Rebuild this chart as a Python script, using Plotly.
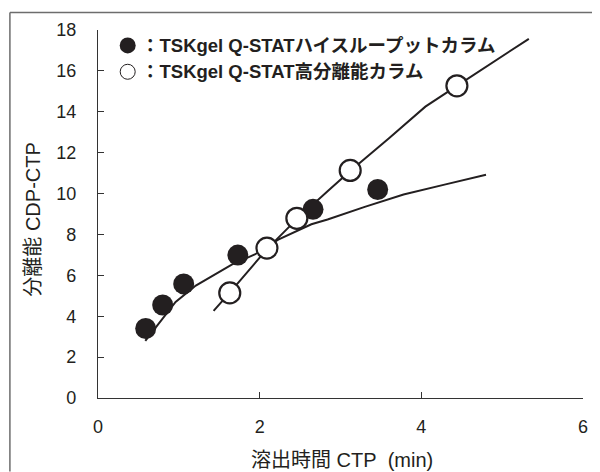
import plotly.graph_objects as go

# ---- data ----
ht_x = [0.59, 0.80, 1.06, 1.73, 2.66, 3.46]          # TSKgel Q-STAT high-throughput (filled)
ht_y = [3.40, 4.55, 5.58, 6.99, 9.23, 10.20]
hr_x = [1.63, 2.09, 2.46, 3.12, 4.44]                # TSKgel Q-STAT high-resolution (open)
hr_y = [5.14, 7.33, 8.79, 11.13, 15.27]

ht_fit_x = [0.585, 0.74, 0.96, 1.21, 1.66, 1.94, 2.23, 2.64, 2.84, 3.30, 3.78, 4.30, 4.80]
ht_fit_y = [2.80, 3.61, 4.70, 5.50, 6.54, 7.02, 7.75, 8.50, 8.73, 9.35, 9.95, 10.45, 10.92]
hr_fit_x = [1.43, 1.63, 2.09, 2.46, 2.85, 3.12, 3.60, 4.05, 4.44, 4.90, 5.33]
hr_fit_y = [4.26, 5.15, 7.28, 8.75, 10.15, 11.10, 12.70, 14.25, 15.27, 16.45, 17.57]

x_ticks = [0, 2, 4, 6]
y_ticks = [0, 2, 4, 6, 8, 10, 12, 14, 16, 18]
legend_labels = ["：TSKgel Q-STATハイスループットカラム", "：TSKgel Q-STAT高分離能カラム"]
x_title = "溶出時間 CTP\u00a0\u00a0(min)"
y_title = "分離能 CDP-CTP"

INK = "#231f20"
FONT = "Liberation Sans, Arial, Noto Sans CJK JP, sans-serif"

fig = go.Figure()
fig.add_trace(go.Scatter(x=ht_fit_x, y=ht_fit_y, mode="lines",
                         line=dict(color=INK, width=2), hoverinfo="skip"))
fig.add_trace(go.Scatter(x=hr_fit_x, y=hr_fit_y, mode="lines",
                         line=dict(color=INK, width=2), hoverinfo="skip"))
fig.add_trace(go.Scatter(x=ht_x, y=ht_y, mode="markers",
                         marker=dict(size=21, color=INK, line=dict(width=0))))
fig.add_trace(go.Scatter(x=hr_x, y=hr_y, mode="markers",
                         marker=dict(size=21, color="white", line=dict(width=2.2, color=INK))))

# page offset of the figure (body margin) = 8 px
OFF = 8
FIG_W, FIG_H = 600 - OFF, 472 - OFF
# plot area in page pixels: x 98..588, y 28..398
PL, PR, PT, PB = 98, 588, 28, 398
L, R, T, B = PL - OFF, 600 - PR, PT - OFF, 472 - PB
W, H = PR - PL, PB - PT

def px(xp):
    return (xp - PL) / W

def py(yp):
    return (PB - yp) / H

shapes = [
    # partial outer frame (top and left)
    dict(type="line", xref="paper", yref="paper", x0=px(9), x1=px(600), y0=py(10.5), y1=py(10.5),
         line=dict(color="#6d6d6d", width=1.5)),
    dict(type="line", xref="paper", yref="paper", x0=px(9), x1=px(9), y0=py(10.5), y1=py(472),
         line=dict(color="#6d6d6d", width=1.5)),
    # legend symbols
    dict(type="circle", xref="paper", yref="paper", xsizemode="pixel", ysizemode="pixel",
         xanchor=px(128), yanchor=py(43.5), x0=-8, x1=8, y0=-8, y1=8,
         fillcolor=INK, line=dict(width=0)),
    dict(type="circle", xref="paper", yref="paper", xsizemode="pixel", ysizemode="pixel",
         xanchor=px(128), yanchor=py(70), x0=-7.5, x1=7.5, y0=-7.5, y1=7.5,
         fillcolor="white", line=dict(color=INK, width=1)),
]

annotations = [
    dict(text=legend_labels[0], xref="paper", yref="paper", x=px(139), y=py(43.5),
         xanchor="left", yanchor="middle", showarrow=False,
         font=dict(family=FONT, size=18.5, color=INK, weight="bold")),
    dict(text=legend_labels[1], xref="paper", yref="paper", x=px(139), y=py(70),
         xanchor="left", yanchor="middle", showarrow=False,
         font=dict(family=FONT, size=18.5, color=INK, weight="bold")),
    dict(text=x_title, xref="paper", yref="paper", x=px(345), y=py(460),
         xanchor="center", yanchor="middle", showarrow=False,
         font=dict(family=FONT, size=20, color=INK)),
    dict(text=y_title, xref="paper", yref="paper", x=px(32), y=py(219),
         xanchor="center", yanchor="middle", showarrow=False, textangle=-90,
         font=dict(family=FONT, size=20, color=INK)),
]

fig.update_layout(
    width=FIG_W, height=FIG_H,
    margin=dict(l=L, r=R, t=T, b=B, pad=0),
    paper_bgcolor="white", plot_bgcolor="white",
    showlegend=False,
    font=dict(family=FONT, size=18, color=INK),
    shapes=shapes, annotations=annotations,
    xaxis=dict(range=[0, 6], tickvals=x_ticks, ticktext=[str(v) for v in x_ticks],
               showgrid=False, zeroline=False, showline=True, linecolor="#333333", linewidth=1.2,
               ticks="inside", ticklen=6, tickcolor="#333333", tickwidth=1.2,
               ticklabelstandoff=12, tickfont=dict(size=18, color=INK)),
    yaxis=dict(range=[0, 18], tickvals=y_ticks, ticktext=[str(v) for v in y_ticks],
               showgrid=False, zeroline=False, showline=True, linecolor="#333333", linewidth=1.2,
               ticks="inside", ticklen=6, tickcolor="#333333", tickwidth=1.2,
               ticklabelstandoff=17, tickfont=dict(size=18, color=INK)),
)

fig.write_html("out.html")
